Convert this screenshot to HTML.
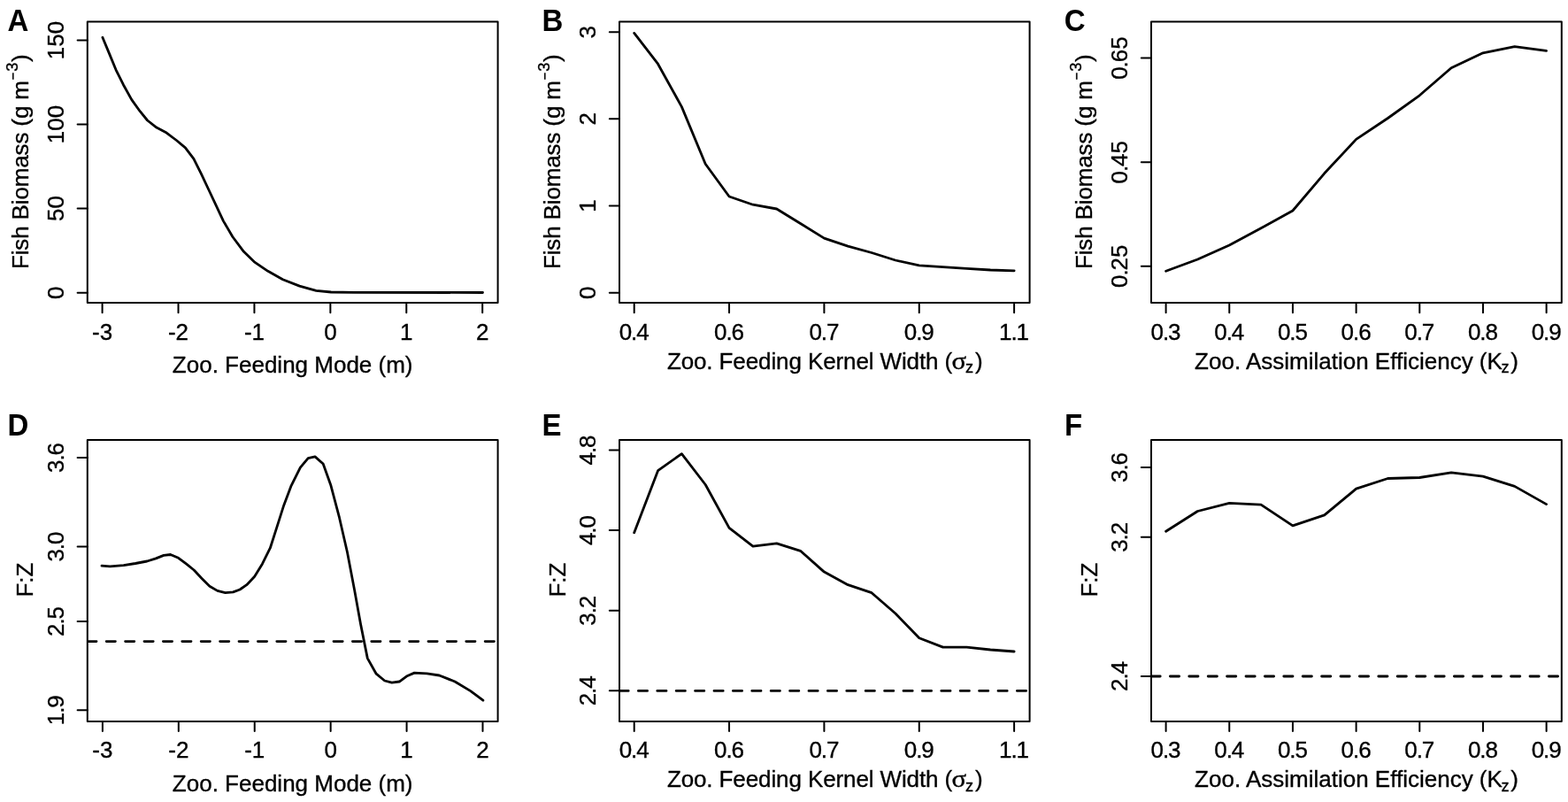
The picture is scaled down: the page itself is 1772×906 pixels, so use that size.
<!DOCTYPE html><html><head><meta charset="utf-8"><title>Figure</title><style>html,body{margin:0;padding:0;background:#fff;}svg{display:block;}text{font-family:"Liberation Sans",Arial,Helvetica,sans-serif;fill:#000;stroke:#000;stroke-width:0.35px;}</style></head><body>
<svg width="1772" height="906" viewBox="0 0 1772 906">
<rect width="1772" height="906" fill="#fff"/>
<g id="panelA">
<clipPath id="clipA"><rect x="98.8" y="24.5" width="463.8" height="317.6"/></clipPath>
<polyline points="115.9,42.2 122.5,58.1 131,78.8 139.4,95.7 148.8,112.6 158.2,125.7 166.6,136 176.9,144.1 188.2,150.1 199.4,158.5 209.4,166.8 218.9,179.4 227.3,196.2 235.7,214 244.1,231.8 252.4,249.6 262.9,267.5 275.5,284.3 288.1,296.4 302.8,306.3 319.6,315.7 338.5,323.1 357.3,328.3 374.1,330 400,330.4 545.5,330.5" fill="none" stroke="#000" stroke-width="2.8" stroke-linejoin="round" stroke-linecap="round" clip-path="url(#clipA)"/>
<rect x="98.8" y="24.5" width="463.8" height="317.6" fill="none" stroke="#000" stroke-width="2" stroke-linejoin="round"/>
<path d="M115.6 342.1V353.3M201.52 342.1V353.3M287.44 342.1V353.3M373.36 342.1V353.3M459.28 342.1V353.3M545.2 342.1V353.3M98.8 330.7H87.6M98.8 235.6H87.6M98.8 140.5H87.6M98.8 45.5H87.6" stroke="#000" stroke-width="2" fill="none" stroke-linecap="round"/>
<text x="115.6" y="383.8" font-size="26" text-anchor="middle">-3</text>
<text x="201.52" y="383.8" font-size="26" text-anchor="middle">-2</text>
<text x="287.44" y="383.8" font-size="26" text-anchor="middle">-1</text>
<text x="373.36" y="383.8" font-size="26" text-anchor="middle">0</text>
<text x="459.28" y="383.8" font-size="26" text-anchor="middle">1</text>
<text x="545.2" y="383.8" font-size="26" text-anchor="middle">2</text>
<text transform="translate(71.8 330.7) rotate(-90)" font-size="26" text-anchor="middle">0</text>
<text transform="translate(71.8 235.6) rotate(-90)" font-size="26" text-anchor="middle">50</text>
<text transform="translate(71.8 140.5) rotate(-90)" font-size="26" text-anchor="middle">100</text>
<text transform="translate(71.8 45.5) rotate(-90)" font-size="26" text-anchor="middle">150</text>
<text x="330.7" y="421.4" font-size="26" text-anchor="middle">Zoo. Feeding Mode (m)</text>
<text transform="translate(31.7 304.1) rotate(-90)" font-size="26" textLength="213.1" lengthAdjust="spacing">Fish Biomass (g m</text>
<text transform="translate(21 90.3) rotate(-90) scale(0.8 1)" font-size="18.2">−</text>
<text transform="translate(19.7 80.8) rotate(-90)" font-size="18.2">3</text>
<text transform="translate(31.7 70) rotate(-90)" font-size="26">)</text>
<text transform="translate(8.4 34.5) scale(1 1.045)" font-size="33" font-weight="bold" style="stroke-width:0">A</text>
</g>
<g id="panelB">
<clipPath id="clipB"><rect x="700.0" y="24.5" width="463.6" height="317.6"/></clipPath>
<polyline points="716.7,37.4 743.54,72.2 770.38,120.6 797.22,185.2 824.06,222 850.9,231.2 877.74,236 904.58,252.5 931.42,269.1 958.26,278.2 985.1,285.5 1011.94,294 1038.78,299.9 1065.62,301.6 1092.46,303.3 1119.3,305 1146.14,305.8" fill="none" stroke="#000" stroke-width="2.8" stroke-linejoin="round" stroke-linecap="round" clip-path="url(#clipB)"/>
<rect x="700.0" y="24.5" width="463.6" height="317.6" fill="none" stroke="#000" stroke-width="2" stroke-linejoin="round"/>
<path d="M716.7 342.1V353.3M824.05 342.1V353.3M931.4 342.1V353.3M1038.75 342.1V353.3M1146.1 342.1V353.3M700 330.7H688.8M700 232.53H688.8M700 134.36H688.8M700 36.19H688.8" stroke="#000" stroke-width="2" fill="none" stroke-linecap="round"/>
<text x="716.7" y="383.8" font-size="26" text-anchor="middle">0<tspan dx="-1.1">.</tspan><tspan dx="-1.1">4</tspan></text>
<text x="824.05" y="383.8" font-size="26" text-anchor="middle">0<tspan dx="-1.1">.</tspan><tspan dx="-1.1">6</tspan></text>
<text x="931.4" y="383.8" font-size="26" text-anchor="middle">0<tspan dx="-1.1">.</tspan><tspan dx="-1.1">7</tspan></text>
<text x="1038.75" y="383.8" font-size="26" text-anchor="middle">0<tspan dx="-1.1">.</tspan><tspan dx="-1.1">9</tspan></text>
<text x="1146.1" y="383.8" font-size="26" text-anchor="middle">1<tspan dx="-1.1">.</tspan><tspan dx="-1.1">1</tspan></text>
<text transform="translate(673 330.7) rotate(-90)" font-size="26" text-anchor="middle">0</text>
<text transform="translate(673 232.53) rotate(-90)" font-size="26" text-anchor="middle">1</text>
<text transform="translate(673 134.36) rotate(-90)" font-size="26" text-anchor="middle">2</text>
<text transform="translate(673 36.19) rotate(-90)" font-size="26" text-anchor="middle">3</text>
<text x="753.9" y="416.7" font-size="26" textLength="322.3" lengthAdjust="spacing">Zoo. Feeding Kernel Width (</text>
<text transform="translate(1075.6 416.7) scale(1.18 1.06)" font-size="26" style="font-family:'Liberation Serif',serif">σ</text>
<text x="1091.0" y="421.1" font-size="18.2">z</text>
<text x="1101.95" y="416.7" font-size="26">)</text>
<text transform="translate(632.9 304.1) rotate(-90)" font-size="26" textLength="213.1" lengthAdjust="spacing">Fish Biomass (g m</text>
<text transform="translate(622.2 90.3) rotate(-90) scale(0.8 1)" font-size="18.2">−</text>
<text transform="translate(620.9 80.8) rotate(-90)" font-size="18.2">3</text>
<text transform="translate(632.9 70) rotate(-90)" font-size="26">)</text>
<text transform="translate(612.4 34.5) scale(1 1.045)" font-size="33" font-weight="bold" style="stroke-width:0">B</text>
</g>
<g id="panelC">
<clipPath id="clipC"><rect x="1301.0" y="24.5" width="463.8" height="317.6"/></clipPath>
<polyline points="1317.6,306.2 1353.43,293 1389.26,277 1425.09,257.8 1460.92,238 1496.75,195.8 1532.58,157.4 1568.41,133.5 1604.24,107.8 1640.07,76.7 1675.9,59.8 1711.73,52.7 1747.56,57.3" fill="none" stroke="#000" stroke-width="2.8" stroke-linejoin="round" stroke-linecap="round" clip-path="url(#clipC)"/>
<rect x="1301.0" y="24.5" width="463.8" height="317.6" fill="none" stroke="#000" stroke-width="2" stroke-linejoin="round"/>
<path d="M1317.6 342.1V353.3M1389.27 342.1V353.3M1460.94 342.1V353.3M1532.61 342.1V353.3M1604.28 342.1V353.3M1675.95 342.1V353.3M1747.62 342.1V353.3M1301 300.7H1289.8M1301 183.2H1289.8M1301 65.6H1289.8" stroke="#000" stroke-width="2" fill="none" stroke-linecap="round"/>
<text x="1317.6" y="383.8" font-size="26" text-anchor="middle">0<tspan dx="-1.1">.</tspan><tspan dx="-1.1">3</tspan></text>
<text x="1389.27" y="383.8" font-size="26" text-anchor="middle">0<tspan dx="-1.1">.</tspan><tspan dx="-1.1">4</tspan></text>
<text x="1460.94" y="383.8" font-size="26" text-anchor="middle">0<tspan dx="-1.1">.</tspan><tspan dx="-1.1">5</tspan></text>
<text x="1532.61" y="383.8" font-size="26" text-anchor="middle">0<tspan dx="-1.1">.</tspan><tspan dx="-1.1">6</tspan></text>
<text x="1604.28" y="383.8" font-size="26" text-anchor="middle">0<tspan dx="-1.1">.</tspan><tspan dx="-1.1">7</tspan></text>
<text x="1675.95" y="383.8" font-size="26" text-anchor="middle">0<tspan dx="-1.1">.</tspan><tspan dx="-1.1">8</tspan></text>
<text x="1747.62" y="383.8" font-size="26" text-anchor="middle">0<tspan dx="-1.1">.</tspan><tspan dx="-1.1">9</tspan></text>
<text transform="translate(1274 300.7) rotate(-90)" font-size="26" text-anchor="middle">0<tspan dx="-1.1">.</tspan><tspan dx="-1.1">25</tspan></text>
<text transform="translate(1274 183.2) rotate(-90)" font-size="26" text-anchor="middle">0<tspan dx="-1.1">.</tspan><tspan dx="-1.1">45</tspan></text>
<text transform="translate(1274 65.6) rotate(-90)" font-size="26" text-anchor="middle">0<tspan dx="-1.1">.</tspan><tspan dx="-1.1">65</tspan></text>
<text x="1350.1" y="416.7" font-size="26">Zoo. Assimilation Efficiency (K</text>
<text x="1696.4" y="421.2" font-size="18.2">z</text>
<text x="1707.15" y="416.7" font-size="26">)</text>
<text transform="translate(1233.9 304.1) rotate(-90)" font-size="26" textLength="213.1" lengthAdjust="spacing">Fish Biomass (g m</text>
<text transform="translate(1223.2 90.3) rotate(-90) scale(0.8 1)" font-size="18.2">−</text>
<text transform="translate(1221.9 80.8) rotate(-90)" font-size="18.2">3</text>
<text transform="translate(1233.9 70) rotate(-90)" font-size="26">)</text>
<text transform="translate(1202.8 34.5) scale(1 1.045)" font-size="33" font-weight="bold" style="stroke-width:0">C</text>
</g>
<g id="panelD">
<clipPath id="clipD"><rect x="98.8" y="496.9" width="463.8" height="318"/></clipPath>
<polyline points="115,639.1 124.3,639.8 139.7,638.7 153,636.5 166.2,634 176.2,630.9 185,627.4 192.7,626.5 201.6,630.3 210.4,636.9 219.2,644 228.1,653.5 236.9,662.3 245.7,667.4 254.6,669.6 263.4,668.9 271.1,666 278.8,660.7 287.7,651.2 296.5,636.9 305.3,619.2 313.1,594.9 320.8,570.7 328.8,549.4 339.4,528.2 348.2,517.6 356,515.9 365.2,524 373.7,547.7 383.5,584.7 392.4,623.5 400.5,665.9 407.5,704.7 415.3,743.6 425.2,761.2 434.7,769 442.8,771.1 451.3,770 459.4,764 468.3,760.1 482.4,760.9 496.5,763 514.1,770 531.8,780.6 545.9,791.2" fill="none" stroke="#000" stroke-width="2.8" stroke-linejoin="round" stroke-linecap="round" clip-path="url(#clipD)"/>
<line x1="98.8" y1="724.6" x2="562.6" y2="724.6" stroke="#000" stroke-width="2.8" stroke-dasharray="10.2 11.2" stroke-linecap="round" clip-path="url(#clipD)"/>
<rect x="98.8" y="496.9" width="463.8" height="318" fill="none" stroke="#000" stroke-width="2" stroke-linejoin="round"/>
<path d="M115.9 814.9V826.1M201.82 814.9V826.1M287.74 814.9V826.1M373.66 814.9V826.1M459.58 814.9V826.1M545.5 814.9V826.1M98.8 517H87.6M98.8 617.6H87.6M98.8 702H87.6M98.8 802.2H87.6" stroke="#000" stroke-width="2" fill="none" stroke-linecap="round"/>
<text x="115.9" y="856.2" font-size="26" text-anchor="middle">-3</text>
<text x="201.82" y="856.2" font-size="26" text-anchor="middle">-2</text>
<text x="287.74" y="856.2" font-size="26" text-anchor="middle">-1</text>
<text x="373.66" y="856.2" font-size="26" text-anchor="middle">0</text>
<text x="459.58" y="856.2" font-size="26" text-anchor="middle">1</text>
<text x="545.5" y="856.2" font-size="26" text-anchor="middle">2</text>
<text transform="translate(71.8 517) rotate(-90)" font-size="26" text-anchor="middle">3<tspan dx="-1.1">.</tspan><tspan dx="-1.1">6</tspan></text>
<text transform="translate(71.8 617.6) rotate(-90)" font-size="26" text-anchor="middle">3<tspan dx="-1.1">.</tspan><tspan dx="-1.1">0</tspan></text>
<text transform="translate(71.8 702) rotate(-90)" font-size="26" text-anchor="middle">2<tspan dx="-1.1">.</tspan><tspan dx="-1.1">5</tspan></text>
<text transform="translate(71.8 802.2) rotate(-90)" font-size="26" text-anchor="middle">1<tspan dx="-1.1">.</tspan><tspan dx="-1.1">9</tspan></text>
<text x="330.7" y="894.2" font-size="26" text-anchor="middle">Zoo. Feeding Mode (m)</text>
<text transform="translate(37.3 655.1) rotate(-90)" font-size="26" text-anchor="middle">F:Z</text>
<text transform="translate(8.6 491.6) scale(1 1.045)" font-size="33" font-weight="bold" style="stroke-width:0">D</text>
</g>
<g id="panelE">
<clipPath id="clipE"><rect x="700.0" y="496.9" width="463.6" height="318"/></clipPath>
<polyline points="716.7,601.8 743.54,531.7 770.38,512.6 797.22,547.5 824.06,596.4 850.9,617.2 877.74,613.8 904.58,622.3 931.42,646.1 958.26,660.7 985.1,669.7 1011.94,693 1038.78,720.7 1065.62,731.1 1092.46,731.1 1119.3,734 1146.14,736" fill="none" stroke="#000" stroke-width="2.8" stroke-linejoin="round" stroke-linecap="round" clip-path="url(#clipE)"/>
<line x1="700.0" y1="780.4" x2="1163.6" y2="780.4" stroke="#000" stroke-width="2.8" stroke-dasharray="10.2 11.2" stroke-linecap="round" clip-path="url(#clipE)"/>
<rect x="700.0" y="496.9" width="463.6" height="318" fill="none" stroke="#000" stroke-width="2" stroke-linejoin="round"/>
<path d="M716.7 814.9V826.1M824.05 814.9V826.1M931.4 814.9V826.1M1038.75 814.9V826.1M1146.1 814.9V826.1M700 508.5H688.8M700 599.1H688.8M700 689.7H688.8M700 780.3H688.8" stroke="#000" stroke-width="2" fill="none" stroke-linecap="round"/>
<text x="716.7" y="856.2" font-size="26" text-anchor="middle">0<tspan dx="-1.1">.</tspan><tspan dx="-1.1">4</tspan></text>
<text x="824.05" y="856.2" font-size="26" text-anchor="middle">0<tspan dx="-1.1">.</tspan><tspan dx="-1.1">6</tspan></text>
<text x="931.4" y="856.2" font-size="26" text-anchor="middle">0<tspan dx="-1.1">.</tspan><tspan dx="-1.1">7</tspan></text>
<text x="1038.75" y="856.2" font-size="26" text-anchor="middle">0<tspan dx="-1.1">.</tspan><tspan dx="-1.1">9</tspan></text>
<text x="1146.1" y="856.2" font-size="26" text-anchor="middle">1<tspan dx="-1.1">.</tspan><tspan dx="-1.1">1</tspan></text>
<text transform="translate(673 508.5) rotate(-90)" font-size="26" text-anchor="middle">4<tspan dx="-1.1">.</tspan><tspan dx="-1.1">8</tspan></text>
<text transform="translate(673 599.1) rotate(-90)" font-size="26" text-anchor="middle">4<tspan dx="-1.1">.</tspan><tspan dx="-1.1">0</tspan></text>
<text transform="translate(673 689.7) rotate(-90)" font-size="26" text-anchor="middle">3<tspan dx="-1.1">.</tspan><tspan dx="-1.1">2</tspan></text>
<text transform="translate(673 780.3) rotate(-90)" font-size="26" text-anchor="middle">2<tspan dx="-1.1">.</tspan><tspan dx="-1.1">4</tspan></text>
<text x="753.9" y="889.4" font-size="26" textLength="322.3" lengthAdjust="spacing">Zoo. Feeding Kernel Width (</text>
<text transform="translate(1075.6 889.4) scale(1.18 1.06)" font-size="26" style="font-family:'Liberation Serif',serif">σ</text>
<text x="1091.0" y="893.8" font-size="18.2">z</text>
<text x="1101.95" y="889.4" font-size="26">)</text>
<text transform="translate(638.5 655.1) rotate(-90)" font-size="26" text-anchor="middle">F:Z</text>
<text transform="translate(612.4 491.6) scale(1 1.045)" font-size="33" font-weight="bold" style="stroke-width:0">E</text>
</g>
<g id="panelF">
<clipPath id="clipF"><rect x="1301.0" y="496.9" width="463.8" height="318"/></clipPath>
<polyline points="1317.6,600.2 1353.43,577.5 1389.26,568.4 1425.09,570.2 1460.92,593.9 1496.75,581.9 1532.58,552.2 1568.41,540.5 1604.24,539.5 1640.07,533.9 1675.9,538.1 1711.73,549.4 1747.56,569.6" fill="none" stroke="#000" stroke-width="2.8" stroke-linejoin="round" stroke-linecap="round" clip-path="url(#clipF)"/>
<line x1="1301.0" y1="764.0" x2="1764.8" y2="764.0" stroke="#000" stroke-width="2.8" stroke-dasharray="10.2 11.2" stroke-linecap="round" clip-path="url(#clipF)"/>
<rect x="1301.0" y="496.9" width="463.8" height="318" fill="none" stroke="#000" stroke-width="2" stroke-linejoin="round"/>
<path d="M1317.6 814.9V826.1M1389.27 814.9V826.1M1460.94 814.9V826.1M1532.61 814.9V826.1M1604.28 814.9V826.1M1675.95 814.9V826.1M1747.62 814.9V826.1M1301 528H1289.8M1301 606.8H1289.8M1301 764H1289.8" stroke="#000" stroke-width="2" fill="none" stroke-linecap="round"/>
<text x="1317.6" y="856.2" font-size="26" text-anchor="middle">0<tspan dx="-1.1">.</tspan><tspan dx="-1.1">3</tspan></text>
<text x="1389.27" y="856.2" font-size="26" text-anchor="middle">0<tspan dx="-1.1">.</tspan><tspan dx="-1.1">4</tspan></text>
<text x="1460.94" y="856.2" font-size="26" text-anchor="middle">0<tspan dx="-1.1">.</tspan><tspan dx="-1.1">5</tspan></text>
<text x="1532.61" y="856.2" font-size="26" text-anchor="middle">0<tspan dx="-1.1">.</tspan><tspan dx="-1.1">6</tspan></text>
<text x="1604.28" y="856.2" font-size="26" text-anchor="middle">0<tspan dx="-1.1">.</tspan><tspan dx="-1.1">7</tspan></text>
<text x="1675.95" y="856.2" font-size="26" text-anchor="middle">0<tspan dx="-1.1">.</tspan><tspan dx="-1.1">8</tspan></text>
<text x="1747.62" y="856.2" font-size="26" text-anchor="middle">0<tspan dx="-1.1">.</tspan><tspan dx="-1.1">9</tspan></text>
<text transform="translate(1274 528) rotate(-90)" font-size="26" text-anchor="middle">3<tspan dx="-1.1">.</tspan><tspan dx="-1.1">6</tspan></text>
<text transform="translate(1274 606.8) rotate(-90)" font-size="26" text-anchor="middle">3<tspan dx="-1.1">.</tspan><tspan dx="-1.1">2</tspan></text>
<text transform="translate(1274 764) rotate(-90)" font-size="26" text-anchor="middle">2<tspan dx="-1.1">.</tspan><tspan dx="-1.1">4</tspan></text>
<text x="1350.1" y="889.4" font-size="26">Zoo. Assimilation Efficiency (K</text>
<text x="1696.4" y="893.9" font-size="18.2">z</text>
<text x="1707.15" y="889.4" font-size="26">)</text>
<text transform="translate(1239.5 655.1) rotate(-90)" font-size="26" text-anchor="middle">F:Z</text>
<text transform="translate(1202.9 491.6) scale(1 1.045)" font-size="33" font-weight="bold" style="stroke-width:0">F</text>
</g>
</svg></body></html>
